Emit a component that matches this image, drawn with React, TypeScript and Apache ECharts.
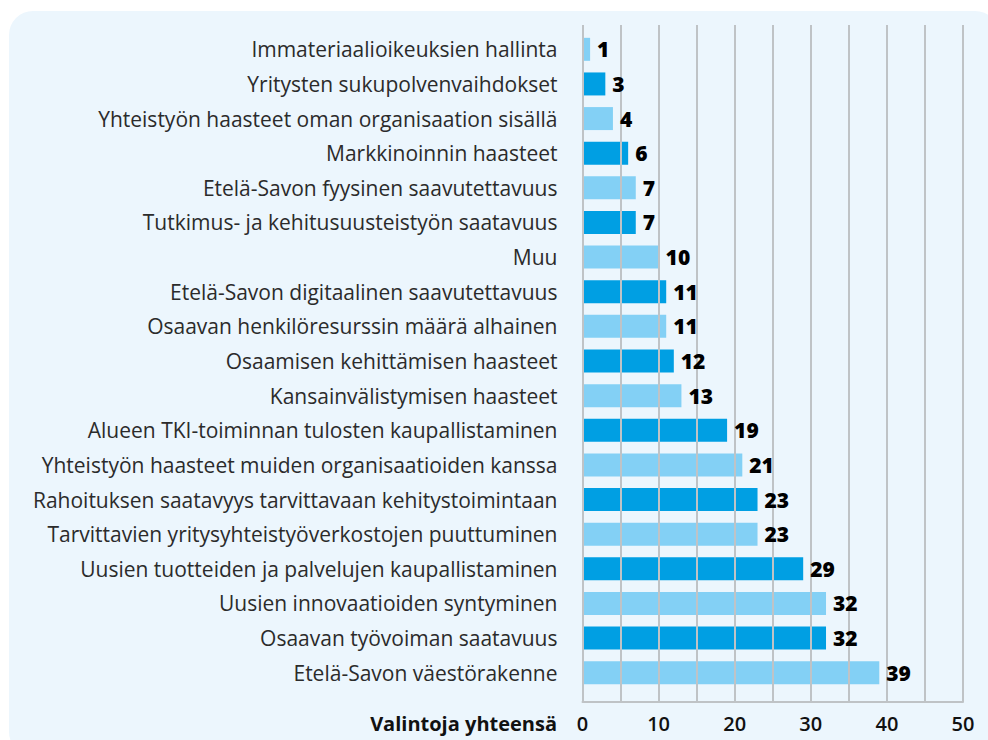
import React, { useEffect, useRef } from "react";
import * as echarts from "echarts";

const categories = [
  "Immateriaalioikeuksien hallinta",
  "Yritysten sukupolvenvaihdokset",
  "Yhteistyön haasteet oman organisaation sisällä",
  "Markkinoinnin haasteet",
  "Etelä-Savon fyysinen saavutettavuus",
  "Tutkimus- ja kehitusuusteistyön saatavuus",
  "Muu",
  "Etelä-Savon digitaalinen saavutettavuus",
  "Osaavan henkilöresurssin määrä alhainen",
  "Osaamisen kehittämisen haasteet",
  "Kansainvälistymisen haasteet",
  "Alueen TKI-toiminnan tulosten kaupallistaminen",
  "Yhteistyön haasteet muiden organisaatioiden kanssa",
  "Rahoituksen saatavyys tarvittavaan kehitystoimintaan",
  "Tarvittavien yritysyhteistyöverkostojen puuttuminen",
  "Uusien tuotteiden ja palvelujen kaupallistaminen",
  "Uusien innovaatioiden syntyminen",
  "Osaavan työvoiman saatavuus",
  "Etelä-Savon väestörakenne",
];
const values = [1, 3, 4, 6, 7, 7, 10, 11, 11, 12, 13, 19, 21, 23, 23, 29, 32, 32, 39];
const axisTitle = "Valintoja yhteensä";

const LIGHT = "#83d0f5";
const DARK = "#009fe3";
const GRIDC = "#bfc3c6";

export default function App() {
  const ref = useRef<HTMLDivElement>(null);
  useEffect(() => {
    if (!ref.current) return;
    const chart = echarts.init(ref.current, null, { renderer: "svg" });
    chart.setOption({
      animation: false,
      backgroundColor: "#ffffff",
      graphic: [
        {
          type: "rect",
          z: -10,
          silent: true,
          shape: { x: 9, y: 11, width: 990, height: 745, r: 24 },
          style: { fill: "#ecf6fd" },
        },
        {
          type: "text",
          z: 10,
          style: {
            x: 557,
            y: 723,
            text: axisTitle,
            align: "right",
            verticalAlign: "middle",
            fontFamily: "Open Sans",
            fontWeight: "bold",
            fontSize: 20,
            fill: "#111111",
          },
        },
      ],
      grid: [
        { left: 582.5, right: 25, top: 32, bottom: 50, containLabel: false },
        { left: 582.5, right: 25, top: 25, bottom: 38, containLabel: false },
      ],
      xAxis: [
        {
          type: "value",
          gridIndex: 0,
          min: 0,
          max: 50,
          interval: 5,
          show: false,
        },
        {
          type: "value",
          gridIndex: 1,
          min: 0,
          max: 50,
          interval: 5,
          z: 2,
          axisLine: { show: true, lineStyle: { color: GRIDC, width: 2 } },
          axisTick: { show: false },
          splitLine: { show: true, lineStyle: { color: GRIDC, width: 2 } },
          axisLabel: {
            margin: 11,
            fontFamily: "Open Sans",
            fontWeight: 600,
            fontSize: 20,
            color: "#111111",
            formatter: (v: number) => (v % 10 === 0 ? String(v) : ""),
          },
        },
      ],
      yAxis: [
        {
          type: "category",
          gridIndex: 0,
          data: categories,
          inverse: true,
          axisLine: { show: false },
          axisTick: { show: false },
          axisLabel: {
            margin: 25,
            fontFamily: "Open Sans",
            fontSize: 21,
            color: "#2b2b2b",
          },
        },
        {
          type: "value",
          gridIndex: 1,
          show: false,
        },
      ],
      series: [
        {
          type: "bar",
          z: 1,
          barWidth: 23,
          xAxisIndex: 0,
          yAxisIndex: 0,
          data: values.map((v, i) => ({
            value: v,
            itemStyle: { color: i % 2 === 0 ? LIGHT : DARK },
          })),
        },
        {
          type: "bar",
          z: 5,
          barWidth: 23,
          barGap: "-100%",
          xAxisIndex: 0,
          yAxisIndex: 0,
          itemStyle: { color: "rgba(0,0,0,0)" },
          data: values,
          label: {
            show: true,
            position: "right",
            distance: 7,
            fontFamily: "Open Sans",
            fontWeight: 800,
            fontSize: 21,
            color: "#000000",
          },
        },
      ],
    });
    return () => chart.dispose();
  }, []);
  return (
    <div
      ref={ref}
      style={{ position: "absolute", left: 0, top: 0, width: 988, height: 740 }}
    />
  );
}
